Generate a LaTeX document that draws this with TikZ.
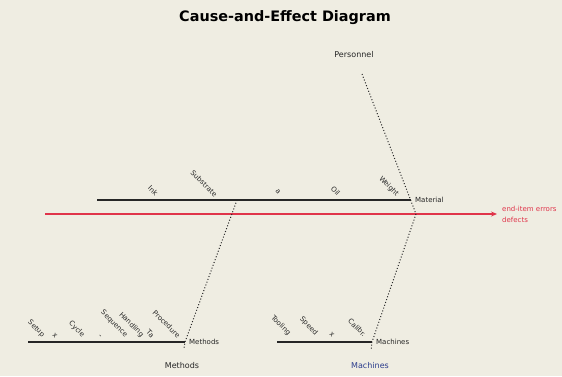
\documentclass[tikz,border=0pt]{standalone}
\usepackage{fontspec}
\setmainfont{DejaVu Sans}
\usetikzlibrary{arrows.meta,calc}
\definecolor{paper}{HTML}{EFEDE2}
\definecolor{spinered}{HTML}{E0344A}
\definecolor{bonegray}{HTML}{262626}
\definecolor{machblue}{HTML}{2B3C8C}
\tikzset{
  bone/.style={line width=1.3pt,draw=bonegray},
  rib/.style={dotted,line width=1pt,draw=bonegray},
  cause/.style={font=\scriptsize,text=bonegray,rotate=-45,anchor=south east,inner sep=0.3pt},
  branch/.style={font=\scriptsize,text=bonegray,anchor=west,inner sep=1pt},
  group/.style={font=\footnotesize,text=bonegray,inner sep=1pt}
}
\begin{document}
\begin{tikzpicture}[x=1pt,y=-1pt]
  \fill[paper] (0,0) rectangle (562,376);
  \useasboundingbox (0,0) rectangle (562,376);
  \node[font=\bfseries\Large] (title) at (285,18) {Cause-and-Effect Diagram};
  % spine and effect
  \coordinate (spL) at (45,214);
  \coordinate (spR) at (497,214);
  \coordinate (head) at (416,214);
  \draw[spinered,line width=1.2pt,-{Stealth[length=6pt,width=5pt]}] (spL) -- (spR);
  \node[font=\scriptsize,text=spinered,anchor=south west,inner sep=1pt] (effA) at (501,213) {end-item errors};
  \node[font=\scriptsize,text=spinered,anchor=north west,inner sep=1pt] (effB) at (501,216) {defects};
  % Personnel
  \node[group] (pers) at (354,55) {Personnel};
  \coordinate (persTop) at (362,74);
  \draw[rib] (persTop) -- (head);
  % Material bone
  \coordinate (matL) at (97,200);
  \coordinate (matR) at (411,200);
  \draw[bone] (matL) -- (matR);
  \node[branch] (mat) at (414,200) {Material};
  \node[cause] at (155,197) {Ink};
  \node[cause] at (214,198) {Substrate};
  \node[cause] at (278,195) {a};
  \node[cause] at (337,197) {Oil};
  \node[cause] at (395,198) {Weight};
  % Methods bone
  \coordinate (meL) at (28,342);
  \coordinate (meR) at (185,342);
  \coordinate (meTop) at (237,200);
  \draw[bone] (meL) -- (meR);
  \node[branch] (meS) at (188,342) {Methods};
  \node[group] (meth) at (182,366) {Methods};
  \draw[rib] (meTop) -- (meR) -- ($(meR)!0.35!(meth.north)$);
  \node[cause] at (41,339) {Setup};
  \node[cause] at (55,339) {x};
  \node[cause] at (81,339) {Cycle};
  \node[cause] at (100,339) {-};
  \node[cause] at (124,339) {Sequence};
  \node[cause] at (140,339) {Handling};
  \node[cause] at (151,339) {Ta};
  \node[cause] at (177,339) {Procedure};
  % Machines bone
  \coordinate (maL) at (277,342);
  \coordinate (maR) at (372,342);
  \draw[bone] (maL) -- (maR);
  \node[branch] (maS) at (375,342) {Machines};
  \node[group,text=machblue] (mach) at (370,366) {Machines};
  \draw[rib] (head) -- (maR) -- ($(maR)!0.35!(mach.north)$);
  \node[cause] at (287,337) {Tooling};
  \node[cause] at (314,337) {Speed};
  \node[cause] at (332,338) {x};
  \node[cause] at (363,338) {Calibr.};
\end{tikzpicture}
\end{document}
